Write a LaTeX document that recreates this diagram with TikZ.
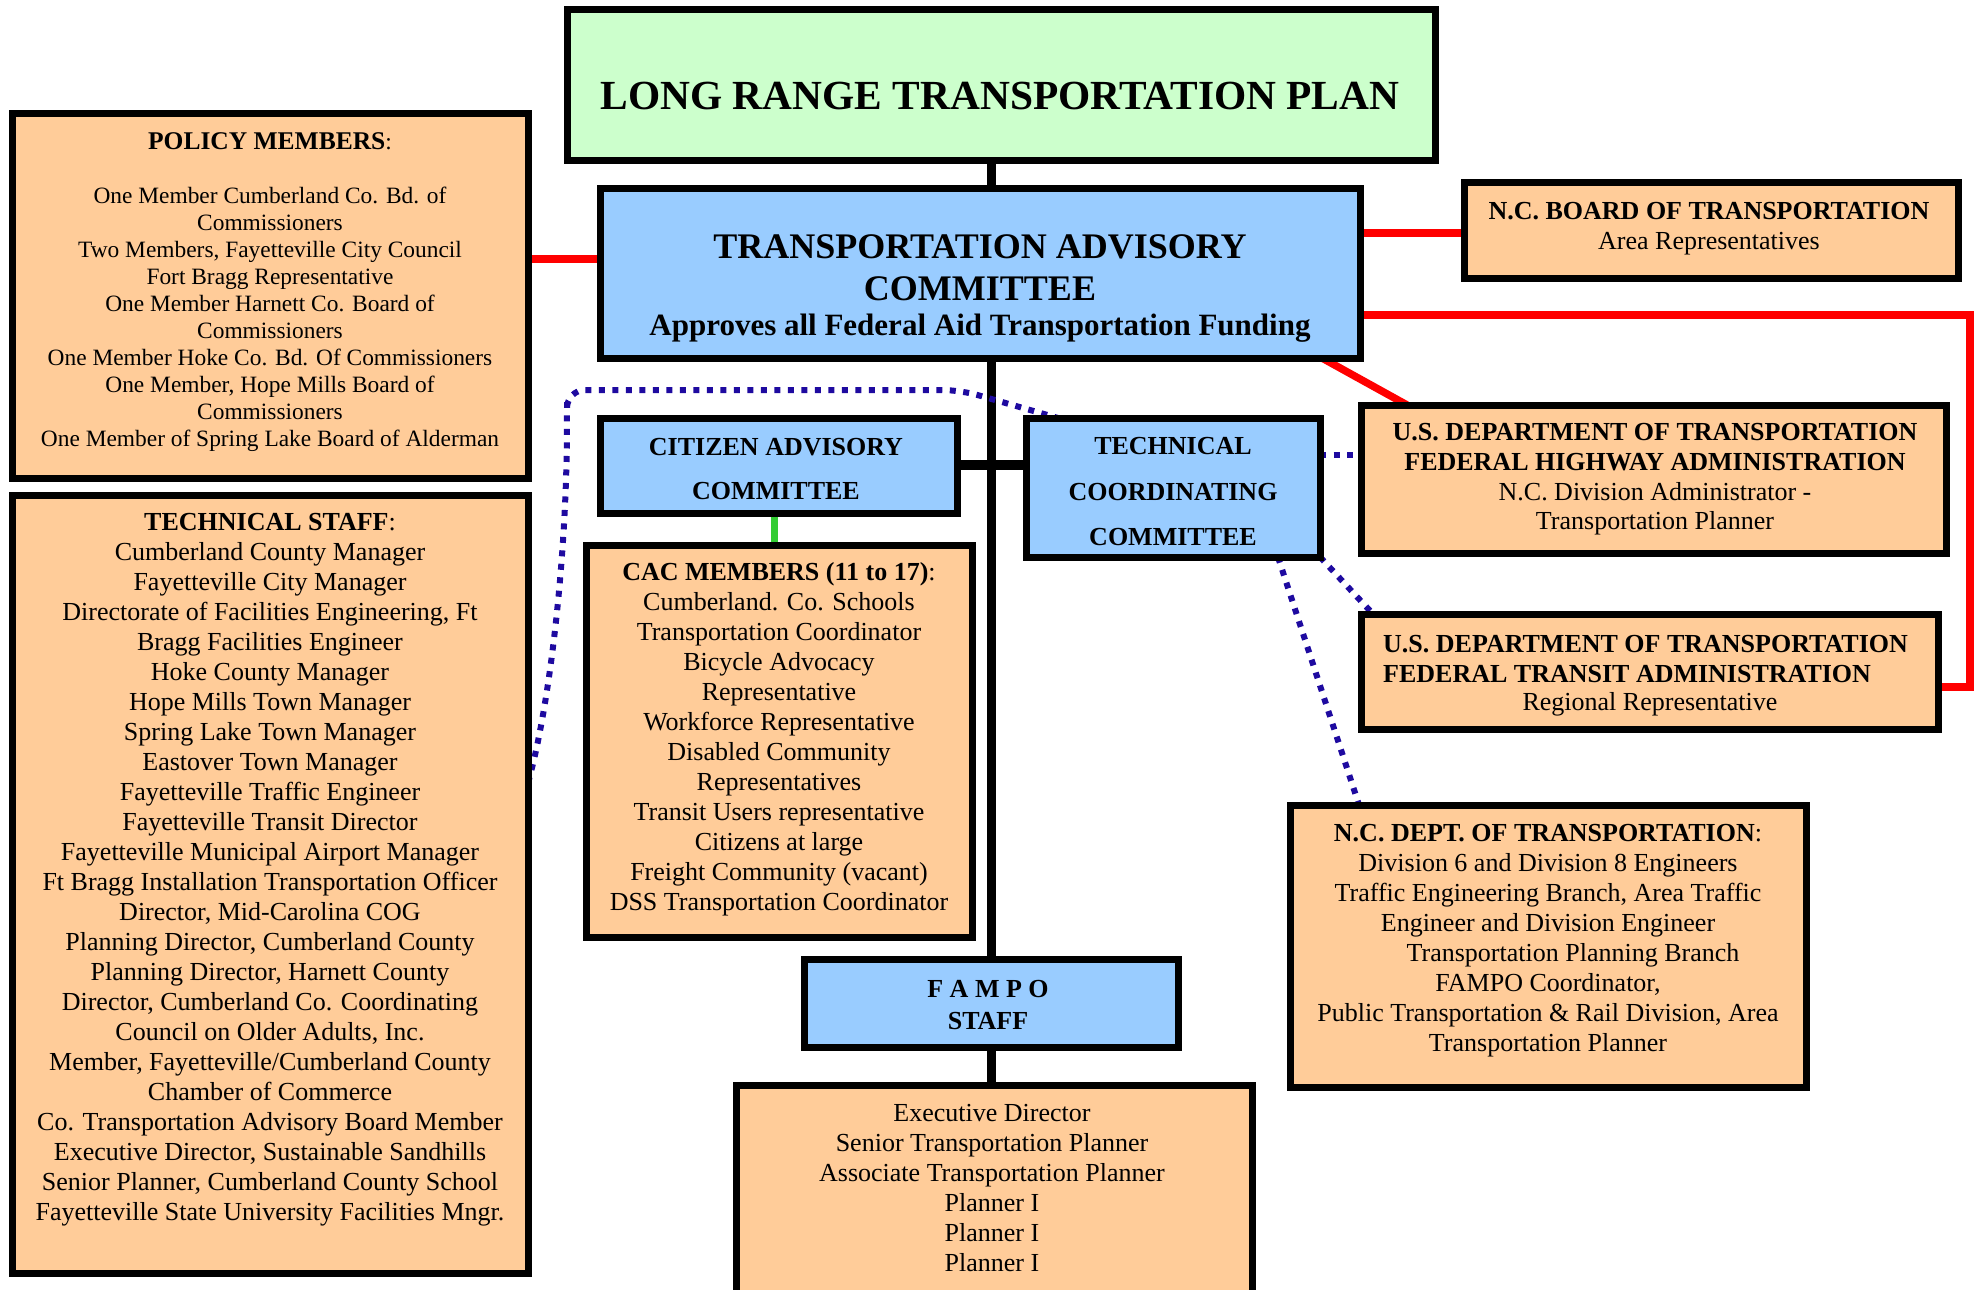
\documentclass[tikz,border=0pt]{standalone}
\usepackage{fontspec}
\setmainfont{Liberation Serif}
\usetikzlibrary{calc,backgrounds}
\definecolor{lgreen}{HTML}{CCFFCC}
\definecolor{lblue}{HTML}{99CCFF}
\definecolor{peach}{HTML}{FFCC99}
\definecolor{indigo}{RGB}{30,10,160}
\definecolor{lred}{HTML}{FF0000}
\definecolor{lgr}{HTML}{33CC33}
\begin{document}
\begin{tikzpicture}[x=1pt,y=-1pt,
  box/.style={draw=black,line width=7pt,inner sep=0pt,outer sep=0pt},
  peachbox/.style={box,fill=peach},
  bluebox/.style={box,fill=lblue},
  txt/.style={inner sep=0pt,align=center,font=\fontsize{26}{30}\selectfont},
  spine/.style={line width=9pt,draw=black},
  redln/.style={line width=7.5pt,draw=lred},
  dotln/.style={line width=6pt,draw=indigo,dash pattern=on 6pt off 7.5pt},
]
\useasboundingbox (0,0) rectangle (1982,1290);
\clip (0,0) rectangle (1982,1290);

% boxes
\node[box,fill=lgreen,minimum width=868pt,minimum height=150pt] (lrtp) at (1001,85) {};
\node[bluebox,minimum width=760pt,minimum height=170pt] (tac) at (980,273) {};
\node[peachbox,minimum width=516pt,minimum height=365pt] (policy) at (270,295.5) {};
\node[peachbox,minimum width=516pt,minimum height=778pt] (tstaff) at (270,884) {};
\node[peachbox,minimum width=494pt,minimum height=96pt] (board) at (1711,230) {};
\node[bluebox,minimum width=357pt,minimum height=95pt] (cac) at (778.5,465.5) {};
\node[bluebox,minimum width=294pt,minimum height=139pt] (tcc) at (1173,487.5) {};
\node[peachbox,minimum width=585pt,minimum height=148pt] (fhwa) at (1653.5,479) {};
\node[peachbox,minimum width=577pt,minimum height=115pt] (fta) at (1649.5,671.5) {};
\node[peachbox,minimum width=386pt,minimum height=392pt] (cacm) at (779,741) {};
\node[bluebox,minimum width=374pt,minimum height=88pt] (fampo) at (991,1003) {};
\node[peachbox,minimum width=516pt,minimum height=282pt] (ncdot) at (1548,946) {};
\node[peachbox,minimum width=516pt,minimum height=225pt] (exec) at (994,1197.5) {};

% helper coordinates
\coordinate (yA) at (0,259);
\coordinate (yB) at (0,233);
\coordinate (yC) at (0,315);
\coordinate (yD) at (0,687);
\coordinate (xR) at (1970,0);
\coordinate (yE) at (0,465);
\coordinate (yF) at (0,455);
\coordinate (yG) at (0,783);
\coordinate (gx) at (774,0);

\begin{scope}[on background layer]
  \draw[spine] (lrtp.south -| fampo.north) -- (tac.north -| fampo.north);
  \draw[spine] (tac.south -| fampo.north) -- (fampo.north);
  \draw[spine] (fampo.south) -- (exec.north -| fampo.south);
  \draw[spine,line width=10pt] (cac.east |- yE) -- (tcc.west |- yE);
  \draw[line width=7pt,draw=lgr] (gx |- cac.south) -- (gx |- cacm.north);
  \draw[redln] (policy.east |- yA) -- (tac.west |- yA);
  \draw[redln] (tac.east |- yB) -- (board.west |- yB);
  \draw[redln] (tac.east |- yC) -- (xR |- yC) -- (xR |- yD) -- (fta.east |- yD);
  \draw[redln] ($(tac.south east)+(-38,0)$) -- ($(fhwa.north west)+(46,0)$);
  \draw[dotln,rounded corners=18pt] (tstaff.east |- yG) .. controls (550,705) and (566,560) .. (567,420) -- (567,390) -- (960,390) -- ($(tcc.north west)+(32,0)$);
  \draw[dotln] (tcc.east |- yF) -- (fhwa.west |- yF);
  \draw[dotln] (tcc.south east) -- ($(fta.north west)+(12,0)$);
  \draw[dotln] ($(tcc.south east)+(-42,0)$) -- ($(ncdot.north west)+(69,0)$);
\end{scope}

% texts
\node[txt,font=\fontsize{41.4}{48}\selectfont\bfseries] (tLrtp) at (1000,96) {LONG RANGE TRANSPORTATION PLAN};
\node[txt,font=\fontsize{36}{42}\selectfont\bfseries] (tTacA) at (980,268) {TRANSPORTATION ADVISORY\\COMMITTEE};
\node[txt,font=\fontsize{31}{36}\selectfont\bfseries] (tTacB) at (980,328) {Approves all Federal Aid Transportation Funding};
\node[txt,font=\fontsize{23.4}{27}\selectfont] (tPolicy) at (270,292.5) {{\fontsize{25.5}{27}\selectfont\bfseries POLICY MEMBERS}:\\[27pt]
One Member Cumberland Co. Bd. of\\
Commissioners\\
Two Members, Fayetteville City Council\\
Fort Bragg Representative\\
One Member Harnett Co. Board of\\
Commissioners\\
One Member Hoke Co. Bd. Of Commissioners\\
One Member, Hope Mills Board of\\
Commissioners\\
One Member of Spring Lake Board of Alderman};
\node[txt] (tStaff) at (270,870) {{\bfseries TECHNICAL STAFF}:\\
Cumberland County Manager\\
Fayetteville City Manager\\
Directorate of Facilities Engineering, Ft\\
Bragg Facilities Engineer\\
Hoke County Manager\\
Hope Mills Town Manager\\
Spring Lake Town Manager\\
Eastover Town Manager\\
Fayetteville Traffic Engineer\\
Fayetteville Transit Director\\
Fayetteville Municipal Airport Manager\\
Ft Bragg Installation Transportation Officer\\
Director, Mid-Carolina COG\\
Planning Director, Cumberland County\\
Planning Director, Harnett County\\
Director, Cumberland Co. Coordinating\\
Council on Older Adults, Inc.\\
Member, Fayetteville/Cumberland County\\
Chamber of Commerce\\
Co. Transportation Advisory Board Member\\
Executive Director, Sustainable Sandhills\\
Senior Planner, Cumberland County School\\
Fayetteville State University Facilities Mngr.};
\node[txt] (tBoard) at (1709,229) {{\bfseries N.C. BOARD OF TRANSPORTATION}\\Area Representatives};
\node[txt,font=\fontsize{26}{44}\selectfont\bfseries] (tCac) at (776,469) {CITIZEN ADVISORY\\COMMITTEE};
\node[txt,font=\fontsize{26}{45.5}\selectfont\bfseries] (tTcc) at (1173,492) {TECHNICAL\\COORDINATING\\COMMITTEE};
\node[txt,font=\fontsize{26}{29.7}\selectfont] (tFhwa) at (1655,479.5) {{\bfseries U.S. DEPARTMENT OF TRANSPORTATION}\\{\bfseries FEDERAL HIGHWAY ADMINISTRATION}\\N.C. Division Administrator -\\Transportation Planner};
\node[txt,align=left,font=\fontsize{26}{29.5}\selectfont\bfseries,anchor=west] (tFtaA) at (1383,659) {U.S. DEPARTMENT OF TRANSPORTATION\\FEDERAL TRANSIT ADMINISTRATION};
\node[txt] (tFtaB) at (1650,704) {Regional Representative};
\node[txt] (tCacm) at (779,739) {{\bfseries CAC MEMBERS (11 to 17)}:\\
Cumberland. Co. Schools\\
Transportation Coordinator\\
Bicycle Advocacy\\
Representative\\
Workforce Representative\\
Disabled Community\\
Representatives\\
Transit Users representative\\
Citizens at large\\
Freight Community (vacant)\\
DSS Transportation Coordinator};
\node[txt,font=\fontsize{26}{32}\selectfont\bfseries] (tFampo) at (988,1005) {F A M P O\\STAFF};
\node[txt] (tNcdot) at (1548,941) {{\bfseries N.C. DEPT. OF TRANSPORTATION}:\\
Division 6 and Division 8 Engineers\\
Traffic Engineering Branch, Area Traffic\\
Engineer and Division Engineer\\
\hspace*{50pt}Transportation Planning Branch\\
FAMPO Coordinator,\\
Public Transportation \& Rail Division, Area\\
Transportation Planner};
\node[txt] (tExec) at (992,1188) {Executive Director\\
Senior Transportation Planner\\
Associate Transportation Planner\\
Planner I\\
Planner I\\
Planner I};
\end{tikzpicture}
\end{document}
